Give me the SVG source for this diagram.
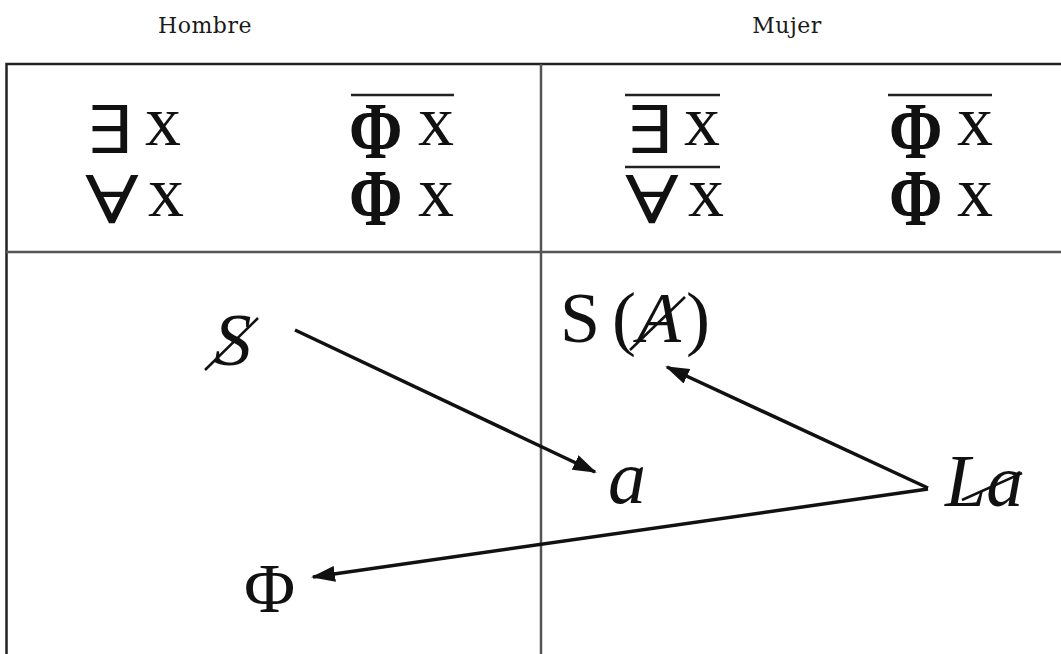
<svg xmlns="http://www.w3.org/2000/svg" width="1061" height="654" viewBox="0 0 1061 654">
<defs>
<style>
.lbl{font-family:"DejaVu Serif","Liberation Serif",serif;font-size:22px;fill:#1a1a1a;letter-spacing:0.5px}
.sym{font-family:"Liberation Serif","DejaVu Serif",serif;fill:#111}
.q{font-family:"DejaVu Serif","Liberation Serif",serif;fill:#111;font-size:66px}
.x{font-family:"Liberation Serif","DejaVu Serif",serif;fill:#111;font-size:72px}
.phi{font-family:"Liberation Serif","DejaVu Serif",serif;fill:#111;font-size:70px;font-weight:bold}
.it{font-style:italic}
.bar{stroke:#222;stroke-width:2.5;fill:none}
.frame{stroke:#222;stroke-width:2.5;fill:none}
.div{stroke:#555;stroke-width:2.5;fill:none}
.con{stroke:#111;stroke-width:3.5;fill:none}
.slash{stroke:#111;stroke-width:2.5;fill:none}
</style>
<marker id="ah" markerUnits="userSpaceOnUse" markerWidth="24" markerHeight="16" refX="22" refY="8" orient="auto">
<path d="M0,0 L24,8 L0,16 Z" fill="#111"/>
</marker>
</defs>
<rect width="1061" height="654" fill="#fff"/>
<g id="frame">
<rect class="frame" x="6.5" y="64" width="1070" height="600"/>
<line class="div" x1="6" y1="252" x2="1061" y2="252"/>
<line class="div" x1="541" y1="64" x2="541" y2="654"/>
</g>
<g id="label-hombre"><text class="lbl" x="205" y="33" text-anchor="middle">Hombre</text></g>
<g id="label-mujer"><text class="lbl" x="787" y="33" text-anchor="middle">Mujer</text></g>
<g id="hombre-formulas">
<text class="q" transform="translate(87,153) scale(1.3,1)">∃</text>
<text class="x" x="145" y="145">x</text>
<text class="q" transform="translate(85,223) scale(1.35,1)">∀</text>
<text class="x" x="148" y="216">x</text>
<line class="bar" x1="351" y1="95" x2="454" y2="95"/>
<text class="phi" transform="translate(349,158) scale(0.92,1.15)">Φ</text>
<text class="x" x="418" y="145">x</text>
<text class="phi" transform="translate(349,225) scale(0.92,1.15)">Φ</text>
<text class="x" x="418" y="216">x</text>
</g>
<g id="mujer-formulas">
<line class="bar" x1="625" y1="95" x2="720" y2="95"/>
<text class="q" transform="translate(627,153) scale(1.3,1)">∃</text>
<text class="x" x="684" y="145">x</text>
<line class="bar" x1="625" y1="167" x2="720" y2="167"/>
<text class="q" transform="translate(625,223) scale(1.35,1)">∀</text>
<text class="x" x="688" y="216">x</text>
<line class="bar" x1="888" y1="95" x2="992" y2="95"/>
<text class="phi" transform="translate(889,158) scale(0.92,1.15)">Φ</text>
<text class="x" x="957" y="145">x</text>
<text class="phi" transform="translate(889,225) scale(0.92,1.15)">Φ</text>
<text class="x" x="957" y="216">x</text>
</g>
<g id="connectors">
<line class="con" x1="295" y1="330" x2="595" y2="472" marker-end="url(#ah)"/>
<line class="con" x1="928" y1="488" x2="667" y2="367" marker-end="url(#ah)"/>
<line class="con" x1="928" y1="489" x2="313" y2="577" marker-end="url(#ah)"/>
</g>
<g id="node-S-barred">
<text class="sym it" x="214" y="365" font-size="75">S</text>
<line class="slash" x1="205" y1="370" x2="258" y2="318"/>
</g>
<g id="node-a"><text class="sym it" x="608" y="503" font-size="76">a</text></g>
<g id="node-Phi"><text class="sym" x="244" y="612" font-size="70">Φ</text></g>
<g id="node-S-A-barred">
<text class="sym" x="560" y="342" font-size="72">S</text>
<text class="sym" x="612" y="342" font-size="72">(</text>
<text class="sym it" x="637" y="342" font-size="72">A</text>
<text class="sym" x="686" y="342" font-size="72">)</text>
<line class="slash" x1="630" y1="350" x2="685" y2="297"/>
</g>
<g id="node-La-barred">
<text class="sym it" x="945" y="506" font-size="74">La</text>
<line class="slash" x1="962" y1="500" x2="1022" y2="473"/>
</g>
</svg>
